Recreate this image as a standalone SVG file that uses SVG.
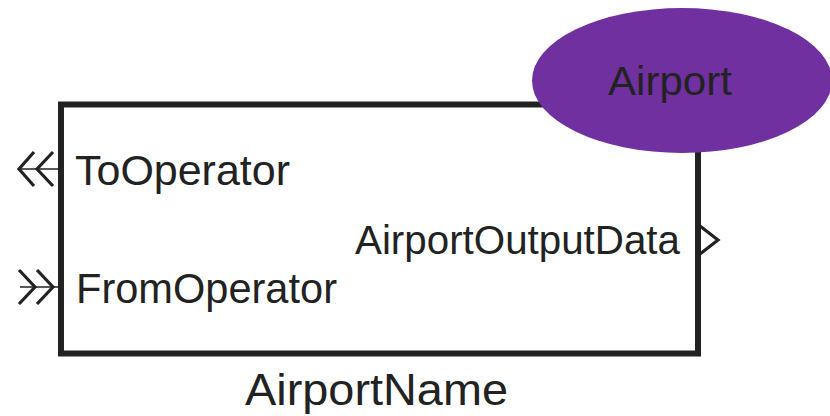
<svg xmlns="http://www.w3.org/2000/svg" width="830" height="416" viewBox="0 0 830 416">
  <style>
    .lbl { font-family: "Liberation Sans", Arial, sans-serif; fill: #222222; }
    .port { fill: none; stroke: #222222; stroke-width: 3.2; stroke-linejoin: miter; }
    .wire { fill: none; stroke: #222222; stroke-width: 1.5; }
  </style>
  <rect width="830" height="416" fill="#ffffff"/>

  <!-- Block body -->
  <g id="block">
    <rect x="61" y="104.5" width="637" height="249" fill="#ffffff" stroke="#222222" stroke-width="6"/>
    <text class="lbl" x="376.5" y="405" font-size="44" text-anchor="middle" textLength="263" lengthAdjust="spacingAndGlyphs">AirportName</text>
  </g>

  <!-- Ports -->
  <g id="connectors">
    <g id="port-to-operator">
      <line class="wire" x1="20" y1="169" x2="58" y2="169"/>
      <polyline class="port" points="34,152 19,169 34,186"/>
      <polyline class="port" points="53,152 37,169 53,186"/>
    </g>
    <g id="port-from-operator">
      <line class="wire" x1="20" y1="287" x2="58" y2="287"/>
      <polyline class="port" points="19,270 35,287 19,304"/>
      <polyline class="port" points="37,270 53,287 37,304"/>
    </g>
    <g id="port-output">
      <polyline class="port" points="700,226 718,240 700,254"/>
    </g>
  </g>

  <!-- Port labels -->
  <g id="labels">
    <text class="lbl" x="75" y="185" font-size="42" textLength="215" lengthAdjust="spacingAndGlyphs">ToOperator</text>
    <text class="lbl" x="76" y="303" font-size="42" textLength="261" lengthAdjust="spacingAndGlyphs">FromOperator</text>
    <text class="lbl" x="680" y="254" font-size="41" text-anchor="end" textLength="325" lengthAdjust="spacingAndGlyphs">AirportOutputData</text>
  </g>

  <!-- Type badge -->
  <g id="airport-badge">
    <ellipse cx="682" cy="80.5" rx="150" ry="72.5" fill="#7030A0"/>
    <text class="lbl" x="670" y="95" font-size="41" text-anchor="middle" textLength="124" lengthAdjust="spacingAndGlyphs">Airport</text>
  </g>
</svg>
